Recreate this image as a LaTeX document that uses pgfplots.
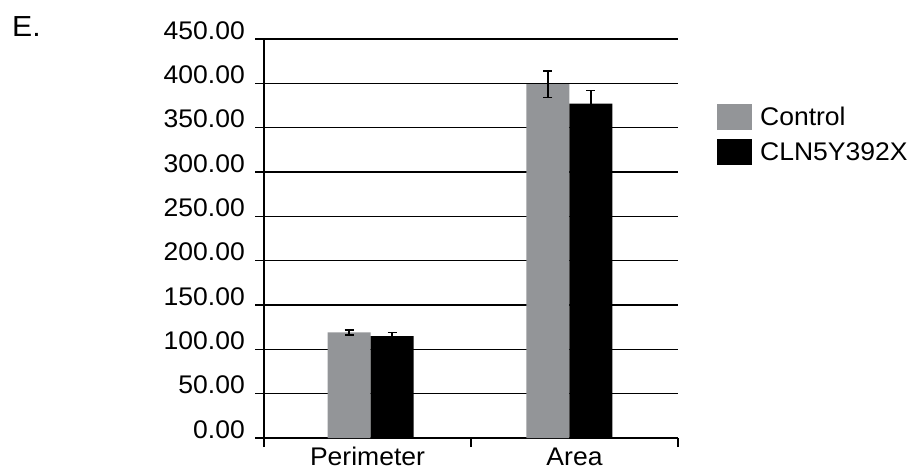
\documentclass[border=0pt]{standalone}
\usepackage{pgfplots}
\pgfplotsset{compat=1.18}
\usepackage{fontspec}
\setmainfont{Liberation Sans}[FakeStretch=1.04]
\definecolor{ctrl}{RGB}{147,149,152}
\newcommand\lab{\fontsize{25.5}{30}\selectfont}
\begin{document}
\begin{tikzpicture}[x=1pt,y=1pt]
\useasboundingbox (0,0) rectangle (909,469);
\node[anchor=base west, inner sep=0pt, font=\fontsize{29}{33}\selectfont] at (12,432) {E.};
\begin{axis}[
  at={(264pt,31pt)}, anchor=south west,
  scale only axis, width=414pt, height=399pt,
  xmin=0, xmax=2, ymin=0, ymax=450,
  axis x line*=bottom, axis y line*=left,
  axis line style={-, line width=1.5pt, black},
  tick style={line width=1.5pt, black},
  tick align=outside, major tick length=9pt,
  xtick={0,1,2}, xticklabels={},
  extra x ticks={0.5,1.5},
  extra x tick labels={Perimeter,Area},
  extra x tick style={major tick length=0pt, grid=none},
  ytick={0,50,...,450},
  ymajorgrids, grid style={line width=1.5pt, black},
  yticklabel style={anchor=base east, font=\lab, inner sep=0pt, xshift=-10pt},
  xticklabel style={font=\lab, anchor=base, inner sep=0pt, yshift=-27pt},
  /pgf/number format/.cd, fixed, fixed zerofill, precision=2, assume math mode=true,
  /pgfplots/.cd,
  ybar=0pt, bar width=43pt,
  legend style={at={(1.094,0.837)}, anchor=north west, draw=none, fill=none,
    inner sep=0pt, font=\lab, row sep=9pt, column sep=0pt,
    nodes={inner sep=0pt, xshift=0pt}},
  legend cell align=left,
  legend image code/.code={\fill[#1] (0pt,-13pt) rectangle (35pt,13pt);},
  error bars/error bar style={line width=1.8pt, black},
  error bars/error mark options={rotate=90, mark size=4.5pt, line width=1.8pt, black},
]
\addplot[fill=ctrl, draw=none, error bars/.cd, y dir=both, y explicit]
  coordinates {(0.515,119) +- (0,3) (1.475,399) +- (0,15)};
\addplot[fill=black, draw=none, error bars/.cd, y dir=both, y explicit]
  coordinates {(0.515,115) +- (0,4) (1.475,377) +- (0,15)};
\legend{\hspace{8pt}Control,\hspace{8pt}CLN5Y392X}
\end{axis}
\end{tikzpicture}
\end{document}
